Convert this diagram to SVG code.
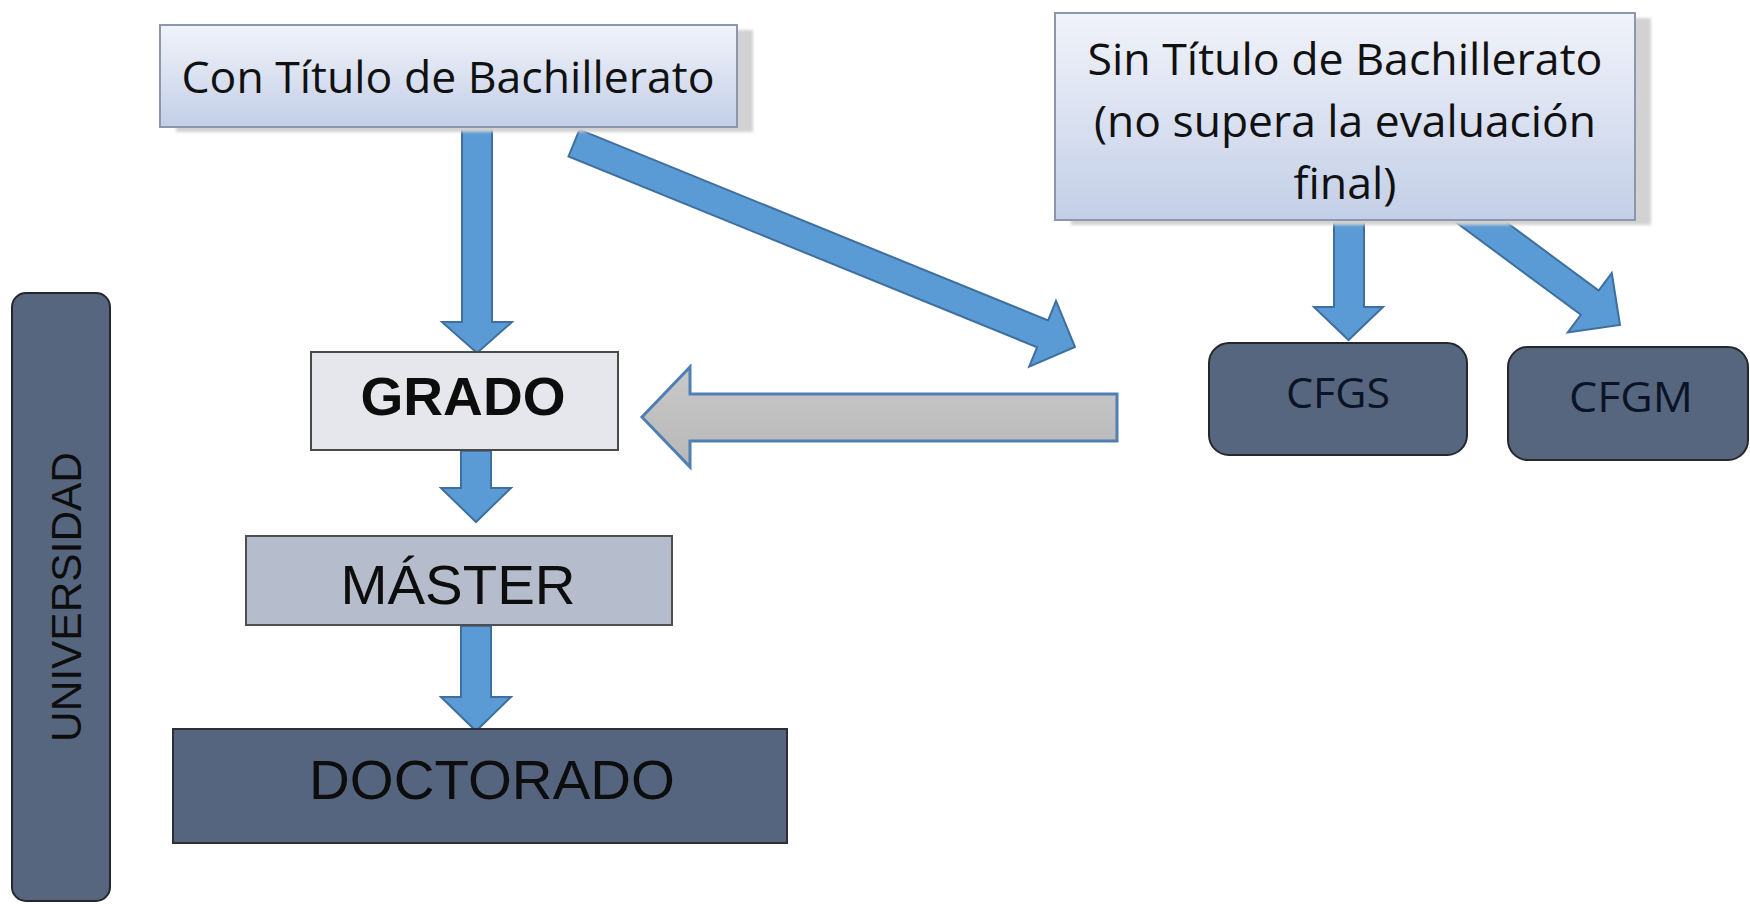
<svg xmlns="http://www.w3.org/2000/svg" width="1750" height="904" viewBox="0 0 1750 904">
<style>
.bg{fill:#ffffff}
.shadow{fill:#d2d2d2}
.title{fill:url(#gTitle);stroke:#8c97ad;stroke-width:2}
.tt{font-family:"Open Sans","Liberation Sans",sans-serif;font-size:44px;fill:#111111;text-anchor:middle}
.ct{font-family:"Open Sans","Liberation Sans",sans-serif;font-size:42px;fill:#0b1426;text-anchor:middle}
.ar{font-family:"Liberation Sans",Arial,sans-serif;fill:#0d0d0d;text-anchor:middle}
.dark{fill:#57667f;stroke:#26272c;stroke-width:2}
.blue{fill:#5b9bd5;stroke:#3f6f9e;stroke-width:2;stroke-linejoin:miter}
.gray{fill:url(#gGray);stroke:#4f7fb3;stroke-width:3}
</style>
<defs>
<linearGradient id="gTitle" x1="0" y1="0" x2="0" y2="1">
<stop offset="0" stop-color="#f1f3fa"/>
<stop offset="1" stop-color="#c3cfe7"/>
</linearGradient>
<linearGradient id="gGray" x1="0" y1="0" x2="0" y2="1">
<stop offset="0" stop-color="#c9c9c9"/>
<stop offset="1" stop-color="#b7b7b7"/>
</linearGradient>
<filter id="blur" x="-5%" y="-5%" width="110%" height="120%">
<feGaussianBlur stdDeviation="1.5"/>
</filter>
</defs>
<rect class="bg" x="0" y="0" width="1750" height="904"/>

<g id="connectors">
<polygon class="blue" points="462,110 492,110 492,322 512,322 477,353 442,322 462,322"/>
<polygon class="blue" points="579.5,129.6 1048.1,320.4 1056,300.9 1075,347 1029.2,366.7 1037.1,347.2 568.5,156.4"/>
<polygon class="blue" points="1334,205 1364,205 1364,307 1383,307 1348.5,340 1314,307 1334,307"/>
<polygon class="blue" points="1459.9,187.9 1598.7,290.6 1611.8,273 1620,325 1567.8,332.4 1580.9,314.8 1442.1,212.1"/>
<polygon class="blue" points="461,451 491,451 491,488 511,488 476,522 441,488 461,488"/>
<polygon class="blue" points="461,626 491,626 491,697 511,697 476,731 441,697 461,697"/>
<polygon class="gray" points="1117,394 690,394 690,367 642,417 690,467 690,441 1117,441"/>
</g>

<g id="node-con-titulo">
<rect class="shadow" x="176" y="30" width="577" height="102" filter="url(#blur)"/>
<rect class="title" x="160" y="25" width="577" height="102"/>
<text class="tt" x="448" y="93" textLength="533" lengthAdjust="spacingAndGlyphs">Con Título de Bachillerato</text>
</g>

<g id="node-sin-titulo">
<rect class="shadow" x="1071" y="18" width="580" height="207" filter="url(#blur)"/>
<rect class="title" x="1055" y="13" width="580" height="207"/>
<text class="tt" x="1345" y="75" textLength="515" lengthAdjust="spacingAndGlyphs">Sin Título de Bachillerato</text>
<text class="tt" x="1345" y="137" textLength="502" lengthAdjust="spacingAndGlyphs">(no supera la evaluación</text>
<text class="tt" x="1345" y="199" textLength="103" lengthAdjust="spacingAndGlyphs">final)</text>
</g>

<g id="node-universidad">
<rect class="dark" x="12" y="293" width="98" height="608" rx="14" ry="14"/>
<text class="ar" transform="translate(81,597) rotate(-90)" font-size="43" fill="#0b1426" textLength="290" lengthAdjust="spacingAndGlyphs">UNIVERSIDAD</text>
</g>

<g id="node-grado">
<rect x="311" y="352" width="307" height="98" fill="#e6e7ec" stroke="#4a4a4a" stroke-width="2"/>
<text class="ar" x="463" y="415" font-size="53" font-weight="bold" textLength="205" lengthAdjust="spacingAndGlyphs">GRADO</text>
</g>

<g id="node-master">
<rect x="246" y="536" width="426" height="89" fill="#b5bdcc" stroke="#4f4f4f" stroke-width="2"/>
<text class="ar" x="458" y="604" font-size="55" textLength="235" lengthAdjust="spacingAndGlyphs">MÁSTER</text>
</g>

<g id="node-doctorado">
<rect x="173" y="729" width="614" height="114" fill="#56657f" stroke="#2e2e33" stroke-width="2"/>
<text class="ar" x="492" y="799" font-size="56" fill="#0b1426" textLength="366" lengthAdjust="spacingAndGlyphs">DOCTORADO</text>
</g>

<g id="node-cfgs">
<rect class="dark" x="1209" y="343" width="258" height="112" rx="20" ry="20"/>
<text class="ct" x="1338" y="408" textLength="104" lengthAdjust="spacingAndGlyphs">CFGS</text>
</g>

<g id="node-cfgm">
<rect class="dark" x="1508" y="347" width="240" height="113" rx="20" ry="20"/>
<text class="ct" x="1631" y="412" textLength="124" lengthAdjust="spacingAndGlyphs">CFGM</text>
</g>
</svg>
